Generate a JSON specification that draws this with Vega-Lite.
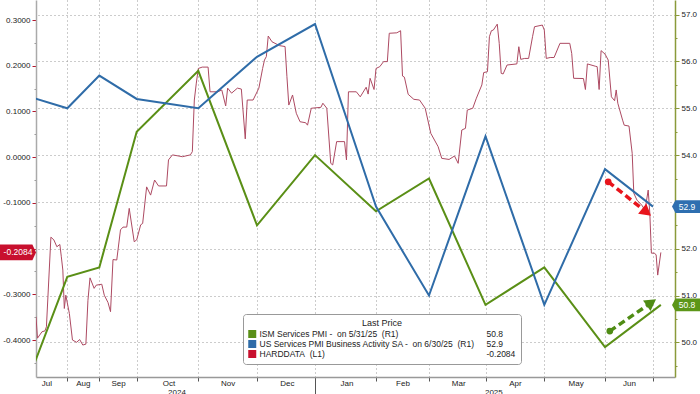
{
  "$schema": "https://vega.github.io/schema/vega-lite/v6.json",
  "width": 639,
  "height": 377,
  "autosize": {"type": "none"},
  "padding": {"left": 36, "right": 25, "top": 0, "bottom": 17},
  "background": "white",
  "config": {
    "font": "Liberation Sans",
    "view": {"stroke": null},
    "axis": {"labelFont": "Liberation Sans", "labelFontSize": 8, "labelColor": "#222", "title": null, "labelFlush": false, "labelOverlap": false}
  },
  "datasets": {
    "hard": [
      {"date": "2024-07-10", "value": -0.349}, {"date": "2024-07-11", "value": -0.396}, {"date": "2024-07-14", "value": -0.382},
      {"date": "2024-07-16", "value": -0.380}, {"date": "2024-07-17", "value": -0.371}, {"date": "2024-07-20", "value": -0.175},
      {"date": "2024-07-22", "value": -0.181}, {"date": "2024-07-24", "value": -0.196}, {"date": "2024-07-26", "value": -0.191},
      {"date": "2024-07-27", "value": -0.218}, {"date": "2024-07-28", "value": -0.247}, {"date": "2024-07-29", "value": -0.331},
      {"date": "2024-07-30", "value": -0.302}, {"date": "2024-08-02", "value": -0.342}, {"date": "2024-08-05", "value": -0.400},
      {"date": "2024-08-09", "value": -0.405}, {"date": "2024-08-12", "value": -0.399}, {"date": "2024-08-15", "value": -0.411},
      {"date": "2024-08-18", "value": -0.409}, {"date": "2024-08-20", "value": -0.313}, {"date": "2024-08-22", "value": -0.264},
      {"date": "2024-08-26", "value": -0.287}, {"date": "2024-08-28", "value": -0.280}, {"date": "2024-09-02", "value": -0.278},
      {"date": "2024-09-04", "value": -0.302}, {"date": "2024-09-07", "value": -0.318}, {"date": "2024-09-09", "value": -0.338},
      {"date": "2024-09-11", "value": -0.224}, {"date": "2024-09-14", "value": -0.225}, {"date": "2024-09-17", "value": -0.159},
      {"date": "2024-09-19", "value": -0.153}, {"date": "2024-09-22", "value": -0.153}, {"date": "2024-09-24", "value": -0.112},
      {"date": "2024-09-28", "value": -0.185}, {"date": "2024-09-30", "value": -0.181}, {"date": "2024-10-02", "value": -0.148},
      {"date": "2024-10-03", "value": -0.145}, {"date": "2024-10-05", "value": -0.065}, {"date": "2024-10-07", "value": -0.083},
      {"date": "2024-10-09", "value": -0.050}, {"date": "2024-10-11", "value": -0.063}, {"date": "2024-10-15", "value": -0.063},
      {"date": "2024-10-16", "value": -0.006}, {"date": "2024-10-18", "value": 0.005}, {"date": "2024-10-23", "value": 0.001},
      {"date": "2024-10-27", "value": 0.005}, {"date": "2024-10-28", "value": 0.012}, {"date": "2024-10-29", "value": 0.125},
      {"date": "2024-10-30", "value": 0.162}, {"date": "2024-10-31", "value": 0.194}, {"date": "2024-11-02", "value": 0.197},
      {"date": "2024-11-05", "value": 0.197}, {"date": "2024-11-06", "value": 0.143}, {"date": "2024-11-10", "value": 0.143},
      {"date": "2024-11-12", "value": 0.147}, {"date": "2024-11-14", "value": 0.112}, {"date": "2024-11-15", "value": 0.151},
      {"date": "2024-11-17", "value": 0.140}, {"date": "2024-11-20", "value": 0.151}, {"date": "2024-11-22", "value": 0.149},
      {"date": "2024-11-24", "value": 0.040}, {"date": "2024-11-25", "value": 0.125}, {"date": "2024-11-28", "value": 0.125},
      {"date": "2024-12-01", "value": 0.151}, {"date": "2024-12-03", "value": 0.194}, {"date": "2024-12-04", "value": 0.2125},
      {"date": "2024-12-05", "value": 0.220}, {"date": "2024-12-06", "value": 0.265}, {"date": "2024-12-08", "value": 0.2525},
      {"date": "2024-12-12", "value": 0.244}, {"date": "2024-12-15", "value": 0.242}, {"date": "2024-12-16", "value": 0.176},
      {"date": "2024-12-17", "value": 0.114}, {"date": "2024-12-19", "value": 0.136}, {"date": "2024-12-21", "value": 0.096},
      {"date": "2024-12-23", "value": 0.0775}, {"date": "2024-12-26", "value": 0.0753}, {"date": "2024-12-27", "value": 0.070},
      {"date": "2024-12-29", "value": 0.107}, {"date": "2025-01-03", "value": 0.109}, {"date": "2025-01-04", "value": 0.118},
      {"date": "2025-01-06", "value": 0.107}, {"date": "2025-01-08", "value": -0.0135}, {"date": "2025-01-09", "value": -0.017},
      {"date": "2025-01-11", "value": 0.034}, {"date": "2025-01-15", "value": 0.034}, {"date": "2025-01-16", "value": -0.006},
      {"date": "2025-01-17", "value": 0.143}, {"date": "2025-01-21", "value": 0.143}, {"date": "2025-01-23", "value": 0.132},
      {"date": "2025-01-26", "value": 0.153}, {"date": "2025-01-27", "value": 0.138}, {"date": "2025-01-28", "value": 0.1725},
      {"date": "2025-01-30", "value": 0.148}, {"date": "2025-01-31", "value": 0.194}, {"date": "2025-02-02", "value": 0.198},
      {"date": "2025-02-04", "value": 0.209}, {"date": "2025-02-06", "value": 0.209}, {"date": "2025-02-07", "value": 0.271},
      {"date": "2025-02-11", "value": 0.272}, {"date": "2025-02-13", "value": 0.2766}, {"date": "2025-02-14", "value": 0.1775},
      {"date": "2025-02-15", "value": 0.175}, {"date": "2025-02-17", "value": 0.1375}, {"date": "2025-02-20", "value": 0.1265},
      {"date": "2025-02-23", "value": 0.125}, {"date": "2025-02-26", "value": 0.107}, {"date": "2025-03-01", "value": 0.052},
      {"date": "2025-03-05", "value": 0.023}, {"date": "2025-03-07", "value": -0.0026}, {"date": "2025-03-11", "value": -0.005},
      {"date": "2025-03-14", "value": 0.0025}, {"date": "2025-03-16", "value": -0.0135}, {"date": "2025-03-18", "value": 0.0594},
      {"date": "2025-03-20", "value": 0.063}, {"date": "2025-03-21", "value": 0.103}, {"date": "2025-03-24", "value": 0.107},
      {"date": "2025-03-26", "value": 0.129}, {"date": "2025-03-29", "value": 0.158}, {"date": "2025-03-30", "value": 0.185},
      {"date": "2025-04-01", "value": 0.187}, {"date": "2025-04-02", "value": 0.2635}, {"date": "2025-04-03", "value": 0.2766},
      {"date": "2025-04-04", "value": 0.278}, {"date": "2025-04-06", "value": 0.291}, {"date": "2025-04-07", "value": 0.249},
      {"date": "2025-04-08", "value": 0.1834}, {"date": "2025-04-09", "value": 0.182}, {"date": "2025-04-11", "value": 0.2016},
      {"date": "2025-04-16", "value": 0.204}, {"date": "2025-04-17", "value": 0.2416}, {"date": "2025-04-18", "value": 0.214},
      {"date": "2025-04-20", "value": 0.216}, {"date": "2025-04-22", "value": 0.216}, {"date": "2025-04-24", "value": 0.2635},
      {"date": "2025-04-25", "value": 0.2853}, {"date": "2025-04-29", "value": 0.289}, {"date": "2025-04-30", "value": 0.278},
      {"date": "2025-05-01", "value": 0.216}, {"date": "2025-05-03", "value": 0.218}, {"date": "2025-05-05", "value": 0.218},
      {"date": "2025-05-08", "value": 0.249}, {"date": "2025-05-13", "value": 0.249}, {"date": "2025-05-14", "value": 0.227},
      {"date": "2025-05-15", "value": 0.1725}, {"date": "2025-05-20", "value": 0.172}, {"date": "2025-05-21", "value": 0.148},
      {"date": "2025-05-22", "value": 0.204}, {"date": "2025-05-26", "value": 0.199}, {"date": "2025-05-27", "value": 0.198},
      {"date": "2025-05-28", "value": 0.148}, {"date": "2025-05-29", "value": 0.233}, {"date": "2025-05-31", "value": 0.2256},
      {"date": "2025-06-02", "value": 0.2125}, {"date": "2025-06-04", "value": 0.132}, {"date": "2025-06-06", "value": 0.1235},
      {"date": "2025-06-07", "value": 0.147}, {"date": "2025-06-08", "value": 0.118}, {"date": "2025-06-11", "value": 0.081},
      {"date": "2025-06-12", "value": 0.070}, {"date": "2025-06-15", "value": 0.068}, {"date": "2025-06-17", "value": 0.0084},
      {"date": "2025-06-18", "value": -0.079}, {"date": "2025-06-20", "value": -0.094}, {"date": "2025-06-23", "value": -0.105},
      {"date": "2025-06-25", "value": -0.116}, {"date": "2025-06-27", "value": -0.072}, {"date": "2025-06-28", "value": -0.122},
      {"date": "2025-06-29", "value": -0.210}, {"date": "2025-07-01", "value": -0.210}, {"date": "2025-07-02", "value": -0.214},
      {"date": "2025-07-03", "value": -0.258}, {"date": "2025-07-05", "value": -0.2084}
    ],
    "pmi": [
      {"series": "ISM Services PMI -\u00a0 on 5/31/25\u00a0 (R1)", "date": "2024-06-30", "value": 48.8},
      {"series": "ISM Services PMI -\u00a0 on 5/31/25\u00a0 (R1)", "date": "2024-07-31", "value": 51.4},
      {"series": "ISM Services PMI -\u00a0 on 5/31/25\u00a0 (R1)", "date": "2024-08-31", "value": 51.6},
      {"series": "ISM Services PMI -\u00a0 on 5/31/25\u00a0 (R1)", "date": "2024-09-30", "value": 54.5},
      {"series": "ISM Services PMI -\u00a0 on 5/31/25\u00a0 (R1)", "date": "2024-10-31", "value": 55.8},
      {"series": "ISM Services PMI -\u00a0 on 5/31/25\u00a0 (R1)", "date": "2024-11-30", "value": 52.5},
      {"series": "ISM Services PMI -\u00a0 on 5/31/25\u00a0 (R1)", "date": "2024-12-31", "value": 54.0},
      {"series": "ISM Services PMI -\u00a0 on 5/31/25\u00a0 (R1)", "date": "2025-01-31", "value": 52.8},
      {"series": "ISM Services PMI -\u00a0 on 5/31/25\u00a0 (R1)", "date": "2025-02-28", "value": 53.5},
      {"series": "ISM Services PMI -\u00a0 on 5/31/25\u00a0 (R1)", "date": "2025-03-31", "value": 50.8},
      {"series": "ISM Services PMI -\u00a0 on 5/31/25\u00a0 (R1)", "date": "2025-04-30", "value": 51.6},
      {"series": "ISM Services PMI -\u00a0 on 5/31/25\u00a0 (R1)", "date": "2025-05-31", "value": 49.9},
      {"series": "ISM Services PMI -\u00a0 on 5/31/25\u00a0 (R1)", "date": "2025-07-05", "value": 50.8},
      {"series": "US Services PMI Business Activity SA -\u00a0 on 6/30/25\u00a0 (R1)", "date": "2024-06-30", "value": 55.3},
      {"series": "US Services PMI Business Activity SA -\u00a0 on 6/30/25\u00a0 (R1)", "date": "2024-07-31", "value": 55.0},
      {"series": "US Services PMI Business Activity SA -\u00a0 on 6/30/25\u00a0 (R1)", "date": "2024-08-31", "value": 55.7},
      {"series": "US Services PMI Business Activity SA -\u00a0 on 6/30/25\u00a0 (R1)", "date": "2024-09-30", "value": 55.2},
      {"series": "US Services PMI Business Activity SA -\u00a0 on 6/30/25\u00a0 (R1)", "date": "2024-10-31", "value": 55.0},
      {"series": "US Services PMI Business Activity SA -\u00a0 on 6/30/25\u00a0 (R1)", "date": "2024-11-30", "value": 56.1},
      {"series": "US Services PMI Business Activity SA -\u00a0 on 6/30/25\u00a0 (R1)", "date": "2024-12-31", "value": 56.8},
      {"series": "US Services PMI Business Activity SA -\u00a0 on 6/30/25\u00a0 (R1)", "date": "2025-01-31", "value": 52.9},
      {"series": "US Services PMI Business Activity SA -\u00a0 on 6/30/25\u00a0 (R1)", "date": "2025-02-28", "value": 51.0},
      {"series": "US Services PMI Business Activity SA -\u00a0 on 6/30/25\u00a0 (R1)", "date": "2025-03-31", "value": 54.4},
      {"series": "US Services PMI Business Activity SA -\u00a0 on 6/30/25\u00a0 (R1)", "date": "2025-04-30", "value": 50.8},
      {"series": "US Services PMI Business Activity SA -\u00a0 on 6/30/25\u00a0 (R1)", "date": "2025-05-31", "value": 53.7},
      {"series": "US Services PMI Business Activity SA -\u00a0 on 6/30/25\u00a0 (R1)", "date": "2025-06-30", "value": 52.9}
    ],
    "tagL": [{"date": "2024-07-10", "value": -0.2084, "label": "-0.2084"}],
    "tagR": [
      {"series": "ISM Services PMI -\u00a0 on 5/31/25\u00a0 (R1)", "date": "2025-06-30", "value": 50.8, "label": "50.8"},
      {"series": "US Services PMI Business Activity SA -\u00a0 on 6/30/25\u00a0 (R1)", "date": "2025-06-30", "value": 52.9, "label": "52.9"}
    ],
    "arrowRed": [{"date": "2025-06-02", "value": 53.43, "part": "start"}, {"date": "2025-06-26", "value": 52.78, "part": "head"}],
    "arrowGreen": [{"date": "2025-06-03", "value": 50.24, "part": "start"}, {"date": "2025-06-29", "value": 50.85, "part": "head"}]
  },
  "layer": [
    {
      "data": {"name": "hard"},
      "encoding": {
        "x": {
          "field": "date", "type": "temporal",
          "scale": {"type": "utc", "nice": false,
            "domain": {"expr": "[utc(2024,6,10),utc(2024,6,31),utc(2024,7,31),utc(2024,8,30),utc(2024,9,31),utc(2024,10,30),utc(2024,11,31),utc(2025,0,31),utc(2025,1,28),utc(2025,2,31),utc(2025,3,30),utc(2025,4,31),utc(2025,5,30),utc(2025,6,14)]"},
            "range": [0, 31.3, 63.3, 100.7, 162.3, 221, 279, 340, 393, 449.5, 508.3, 569, 617, 639]},
          "axis": {
            "orient": "bottom",
            "values": [
              {"year": 2024, "month": 7, "date": 31, "utc": true}, {"year": 2024, "month": 8, "date": 31, "utc": true},
              {"year": 2024, "month": 9, "date": 30, "utc": true}, {"year": 2024, "month": 10, "date": 31, "utc": true},
              {"year": 2024, "month": 11, "date": 30, "utc": true}, {"year": 2024, "month": 12, "date": 31, "utc": true},
              {"year": 2025, "month": 1, "date": 31, "utc": true}, {"year": 2025, "month": 2, "date": 28, "utc": true},
              {"year": 2025, "month": 3, "date": 31, "utc": true}, {"year": 2025, "month": 4, "date": 30, "utc": true},
              {"year": 2025, "month": 5, "date": 31, "utc": true}, {"year": 2025, "month": 6, "date": 30, "utc": true}
            ],
            "labels": false,
            "ticks": true,
            "tickSize": {"condition": {"test": "utcmonth(datum.value) == 11 && utcdate(datum.value) == 31", "value": 18}, "value": 4},
            "tickColor": "#555",
            "grid": true, "gridColor": "#999", "gridDash": [1, 3], "gridWidth": 1,
            "domain": true, "domainColor": "#999", "domainWidth": 1.5
          }
        },
        "y": {
          "field": "value", "type": "quantitative",
          "scale": {"domain": [-0.4809, 0.3438], "nice": false, "zero": false},
          "axis": {
            "orient": "left",
            "values": [-0.45, -0.4, -0.35, -0.3, -0.25, -0.2, -0.15, -0.1, -0.05, 0, 0.05, 0.1, 0.15, 0.2, 0.25, 0.3],
            "labelExpr": "abs(datum.value*10 - round(datum.value*10)) < 0.01 && abs(datum.value + 0.2) > 0.001 ? replace(format(datum.value, '.4f'), '\u2212', '-') : ''",
            "tickSize": {"condition": {"test": "abs(datum.value*10 - round(datum.value*10)) < 0.01", "value": 4}, "value": 2},
            "tickColor": {"condition": {"test": "abs(datum.value*10 - round(datum.value*10)) < 0.01", "value": "#b3182e"}, "value": "#999"},
            "grid": false,
            "domain": true, "domainColor": "#aaa", "domainWidth": 1.5,
            "labelPadding": 2
          }
        }
      },
      "layer": [
        {"mark": {"type": "line", "stroke": "#ad4a62", "strokeWidth": 1, "clip": true}},
        {"data": {"name": "tagL"},
         "mark": {"type": "point", "shape": "M-1,-0.44 L0.8,-0.44 L1,0 L0.8,0.44 L-1,0.44 Z", "filled": true, "fill": "#c8102e", "opacity": 1, "strokeWidth": 0, "size": 1296, "xOffset": -18}},
        {"data": {"name": "tagL"},
         "mark": {"type": "text", "dx": -18, "color": "white", "fontSize": 8.5, "align": "center", "baseline": "middle"},
         "encoding": {"text": {"field": "label"}}}
      ]
    },
    {
      "data": {"name": "pmi"},
      "encoding": {
        "x": {
          "field": "date", "type": "temporal",
          "scale": {"type": "utc", "nice": false,
            "domain": {"expr": "[utc(2024,6,10),utc(2024,6,31),utc(2024,7,31),utc(2024,8,30),utc(2024,9,31),utc(2024,10,30),utc(2024,11,31),utc(2025,0,31),utc(2025,1,28),utc(2025,2,31),utc(2025,3,30),utc(2025,4,31),utc(2025,5,30),utc(2025,6,14)]"},
            "range": [0, 31.3, 63.3, 100.7, 162.3, 221, 279, 340, 393, 449.5, 508.3, 569, 617, 639]},
          "axis": {
            "orient": "bottom",
            "values": [
              {"year": 2024, "month": 7, "date": 17, "utc": true}, {"year": 2024, "month": 8, "date": 15, "utc": true},
              {"year": 2024, "month": 9, "date": 15, "utc": true}, {"year": 2024, "month": 10, "date": 16, "utc": true},
              {"year": 2024, "month": 11, "date": 15, "utc": true}, {"year": 2024, "month": 12, "date": 16, "utc": true},
              {"year": 2025, "month": 1, "date": 16, "utc": true}, {"year": 2025, "month": 2, "date": 14, "utc": true},
              {"year": 2025, "month": 3, "date": 16, "utc": true}, {"year": 2025, "month": 4, "date": 15, "utc": true},
              {"year": 2025, "month": 5, "date": 16, "utc": true}, {"year": 2025, "month": 6, "date": 15, "utc": true}
            ],
            "labelExpr": "utcFormat(datum.value, '%b')",
            "ticks": false, "tickSize": 0, "grid": false, "domain": false,
            "labelPadding": 2, "labelFontSize": 8
          }
        },
        "y": {
          "field": "value", "type": "quantitative",
          "scale": {"domain": [49.259, 57.314], "nice": false, "zero": false},
          "axis": {
            "orient": "right",
            "values": [49.5, 50, 50.5, 51, 51.5, 52, 52.5, 53, 53.5, 54, 54.5, 55, 55.5, 56, 56.5, 57],
            "labelExpr": "datum.value % 1 == 0 && datum.value != 53 ? format(datum.value, '.1f') : ''",
            "tickSize": {"condition": {"test": "datum.value % 1 == 0", "value": 4}, "value": 2},
            "tickColor": "#8a9a3a",
            "grid": true, "gridColor": "#999", "gridDash": [1, 3], "gridWidth": 1,
            "gridOpacity": {"condition": {"test": "datum.value % 1 == 0", "value": 1}, "value": 0},
            "domain": true, "domainColor": "#8a9a3a", "domainWidth": 1.5,
            "labelPadding": 2
          }
        }
      },
      "layer": [
        {"mark": {"type": "line", "strokeWidth": 2, "clip": true},
         "encoding": {
           "color": {
             "field": "series", "type": "nominal",
             "scale": {
               "domain": ["ISM Services PMI -\u00a0 on 5/31/25\u00a0 (R1)", "50.8", "US Services PMI Business Activity SA -\u00a0 on 6/30/25\u00a0 (R1)", "52.9", "HARDDATA\u00a0 (L1)", "-0.2084"],
               "range": ["#5a8f16", "transparent", "#2f6ca8", "transparent", "#c8102e", "transparent"]
             },
             "legend": {
               "orient": "none", "legendX": 207, "legendY": 314,
               "direction": "horizontal",
               "columns": 2, "columnPadding": 0, "rowPadding": 0, "clipHeight": 10,
               "title": "Last Price", "titleAnchor": "middle", "titleFontSize": 9, "titleFontWeight": "normal",
               "titleColor": "#222", "titleFont": "Liberation Sans", "titlePadding": 1,
               "labelFont": "Liberation Sans", "labelFontSize": 8.5, "labelColor": "#222", "labelLimit": 400, "labelOffset": 3,
               "symbolType": "square", "symbolSize": 4, "symbolStrokeWidth": 6, "symbolOpacity": 1,
               "padding": 5, "fillColor": "white", "strokeColor": "#999", "cornerRadius": 3
             }
           }
         }},
        {"data": {"name": "tagR"},
         "mark": {"type": "point", "shape": "M-1,0 L-0.75,-0.46 L1,-0.46 L1,0.46 L-0.75,0.46 Z", "filled": true, "opacity": 1, "strokeWidth": 0, "size": 784, "xOffset": 33},
         "encoding": {
           "fill": {"field": "series", "type": "nominal", "legend": null,
             "scale": {"domain": ["ISM Services PMI -\u00a0 on 5/31/25\u00a0 (R1)", "US Services PMI Business Activity SA -\u00a0 on 6/30/25\u00a0 (R1)"], "range": ["#5c9618", "#2f6fb0"]}}
         }},
        {"data": {"name": "tagR"},
         "mark": {"type": "text", "dx": 34, "color": "white", "fontSize": 8.5, "align": "center", "baseline": "middle"},
         "encoding": {"text": {"field": "label"}}}
      ]
    },
    {
      "encoding": {
        "x": {
          "field": "date", "type": "temporal",
          "scale": {"type": "utc", "nice": false,
            "domain": {"expr": "[utc(2024,6,10),utc(2024,6,31),utc(2024,7,31),utc(2024,8,30),utc(2024,9,31),utc(2024,10,30),utc(2024,11,31),utc(2025,0,31),utc(2025,1,28),utc(2025,2,31),utc(2025,3,30),utc(2025,4,31),utc(2025,5,30),utc(2025,6,14)]"},
            "range": [0, 31.3, 63.3, 100.7, 162.3, 221, 279, 340, 393, 449.5, 508.3, 569, 617, 639]},
          "axis": {
            "orient": "bottom",
            "values": [{"year": 2024, "month": 10, "date": 20, "utc": true}, {"year": 2025, "month": 4, "date": 4, "utc": true}],
            "labelExpr": "utcFormat(datum.value, '%Y')",
            "ticks": false, "tickSize": 0, "grid": false, "domain": false,
            "labelPadding": 11, "labelFontSize": 8
          }
        },
        "y": {
          "field": "value", "type": "quantitative",
          "scale": {"domain": [49.259, 57.314], "nice": false, "zero": false},
          "axis": null
        }
      },
      "layer": [
        {"data": {"name": "arrowRed"},
         "mark": {"type": "line", "stroke": "#e8141c", "strokeWidth": 3.5, "strokeDash": [7, 4]}},
        {"data": {"name": "arrowRed"}, "transform": [{"filter": "datum.part == 'start'"}],
         "mark": {"type": "point", "shape": "circle", "filled": true, "fill": "#e8141c", "opacity": 1, "size": 45, "strokeWidth": 0}},
        {"data": {"name": "arrowRed"}, "transform": [{"filter": "datum.part == 'head'"}],
         "mark": {"type": "point", "shape": "triangle-up", "filled": true, "fill": "#e8141c", "opacity": 1, "size": 170, "strokeWidth": 0, "angle": 129}},
        {"data": {"name": "arrowGreen"},
         "mark": {"type": "line", "stroke": "#4f8c14", "strokeWidth": 3.5, "strokeDash": [7, 4]}},
        {"data": {"name": "arrowGreen"}, "transform": [{"filter": "datum.part == 'start'"}],
         "mark": {"type": "point", "shape": "circle", "filled": true, "fill": "#4f8c14", "opacity": 1, "size": 45, "strokeWidth": 0}},
        {"data": {"name": "arrowGreen"}, "transform": [{"filter": "datum.part == 'head'"}],
         "mark": {"type": "point", "shape": "triangle-up", "filled": true, "fill": "#4f8c14", "opacity": 1, "size": 170, "strokeWidth": 0, "angle": 55}}
      ]
    }
  ],
  "resolve": {
    "scale": {"y": "independent"},
    "axis": {"x": "independent", "y": "independent"}
  }
}
